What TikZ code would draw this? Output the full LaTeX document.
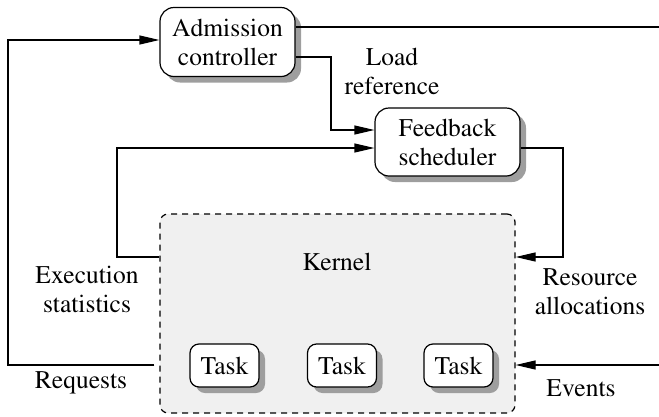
\documentclass[tikz,border=0pt]{standalone}
\usepackage[T1]{fontenc}
\renewcommand{\rmdefault}{ptm}
\usetikzlibrary{arrows.meta,shadows}

\begin{document}
\begin{tikzpicture}[x=1pt, y=-1pt, line width=1.2pt,
    every node/.style={font=\rmfamily\fontsize{25.5}{29}\selectfont, align=center, inner sep=0pt},
    block/.style={draw, rounded corners=14pt, fill=white,
      drop shadow={shadow xshift=6pt, shadow yshift=-6pt, fill=black!38, opacity=1}},
    taskbox/.style={block, rounded corners=9pt, minimum width=69pt, minimum height=43pt},
    arr/.style={-{Triangle[length=20pt, width=9pt]}}]
    \useasboundingbox (0, 0) rectangle (659, 416);

    % kernel area
    \node[draw, dash pattern=on 6pt off 5pt, rounded corners=8pt, fill=black!6,
      minimum width=355pt, minimum height=199pt] (kern) at (337.5, 313.5) {};
    \node[] (kernlbl) at (337, 262) {Kernel};
    \node[taskbox] (task1) at (224.5, 365.5) {Task};
    \node[taskbox] (task2) at (342, 365.5) {Task};
    \node[taskbox] (task3) at (458.5, 365.5) {Task};

    % controllers
    \node[block, minimum width=135pt, minimum height=69pt] (adm) at (227.5, 42) {Admission\\controller};
    \node[block, minimum width=145pt, minimum height=68pt] (fb) at (447.5, 142) {Feedback\\scheduler};

    \coordinate (out) at (659, 27);
    \coordinate (ev) at (659, 365);

    % connectors
    \draw ([yshift=15pt]adm.east) -- (out);
    \draw[arr] ([yshift=-15pt]adm.east) -| (331, 130) -- (fb.west |- 0, 130);
    \draw[arr] (fb.east |- 0, 148) -| (563, 257) -- (kern.east |- 0, 257);
    \draw[arr] (kern.west |- 0, 257) -| (117, 148) -- (fb.west |- 0, 148);
    \draw[arr] ([xshift=-5pt]kern.west |- 0, 365) -| (8, 40) -- (adm.west |- 0, 40);
    \draw[arr] (ev) -- (kern.east |- 0, 365);

    \node[] (loadref) at (392, 71) {Load\\reference};
    \node[] (execstat) at (87, 289) {Execution\\statistics};
    \node[] (req) at (81, 383) {Requests};
    \node[] (resalloc) at (590, 292) {Resource\\allocations};
    \node[] (events) at (581, 388) {Events};
  \end{tikzpicture}
\end{document}
